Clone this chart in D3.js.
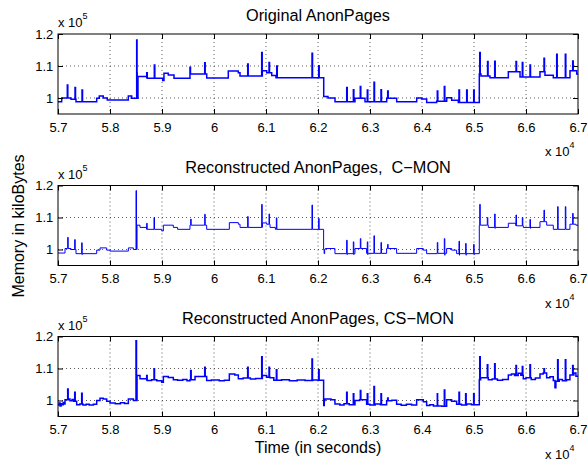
<!DOCTYPE html>
<html>
<head>
<meta charset="utf-8">
<script src="https://cdn.jsdelivr.net/npm/d3@7"></script>
<style>
  html, body { margin: 0; padding: 0; background: #fff; }
  svg { display: block; }
  text { font-family: "Liberation Sans", Arial, Helvetica, sans-serif; fill: #000; }
</style>
</head>
<body>
<svg id="chart" width="588" height="462"></svg>
<script>
// ---- axis ticks ----
const xTicks = [57000, 58000, 59000, 60000, 61000, 62000, 63000, 64000, 65000, 66000, 67000];
const xTickLabels = ["5.7", "5.8", "5.9", "6", "6.1", "6.2", "6.3", "6.4", "6.5", "6.6", "6.7"];
const yTicks = [100000, 110000, 120000];
const yTickLabels = ["1", "1.1", "1.2"];
const panelTitles = ["Original AnonPages", "Reconstructed AnonPages,  C\u2212MON", "Reconstructed AnonPages, CS\u2212MON"];

// ---- Original AnonPages: step levels (time s, kB) and short spikes ----
const origLevelT = [57000, 57071, 57250, 57346, 57744, 57794, 57871, 57948, 58352, 58417, 58520, 58538, 58706,
  59013, 59038, 59121, 59231, 59538, 59860, 60275, 60467, 60500, 60929, 61013, 61110, 61192,
  62110, 62192, 62327, 62711, 62904, 63321, 63513, 63898, 63994, 64090, 64282, 64475, 64571, 64698,
  65102, 65134, 65307, 65660, 65885, 66269, 66365, 66525, 66846, 66975];
const origLevelV = [98800, 100000, 99600, 98800, 99900, 100600, 100000, 99400, 100600, 99900, 107900, 106700, 106200,
  105500, 107700, 107200, 106200, 107500, 106250, 108400, 107900, 106900, 108500, 107900, 107000, 106350,
  100500, 100000, 98800, 99900, 98800, 99900, 98800, 100000, 99700, 98600, 99000, 100100, 99300, 98600,
  107500, 106900, 106350, 108200, 106600, 108200, 107100, 106350, 108500, 107500];
const origSpikeT = [57179, 57327, 57462, 58513, 58706, 58852, 59538, 59821, 60648, 60917, 61058, 61206,
  61885, 62013, 62552, 62680, 62813, 62948, 63077, 63211, 63340, 64294, 64429, 64711, 64859, 64994,
  65110, 65261, 65398, 65808, 65929, 66077, 66346, 66590, 66756, 66898];
const origSpikeV = [104100, 103300, 102500, 118100, 107900, 110300, 109600, 111000, 110600, 114200, 111100, 110000,
  114000, 110100, 103300, 102600, 103600, 102500, 104900, 102600, 102200, 102200, 103600, 102500, 102500, 102500,
  114200, 111400, 111500, 111400, 111100, 110300, 112400, 113700, 113700, 111600];

// ---- Reconstructed, C-MON ----
const cmonLevelT = [57000, 57135, 57250, 57346, 57744, 57808, 57936, 58000, 58353, 58449, 58520, 58577, 58705,
  58994, 59026, 59218, 59300, 59538, 59859, 60295, 60468, 60500, 60930, 61013, 61077, 61180,
  62108, 62140, 62326, 62711, 62935, 63320, 63512, 63897, 64025, 64089, 64294, 64474, 64570, 64666,
  65102, 65275, 65660, 65807, 65948, 66269, 66397, 66525, 66845, 66960];
const cmonLevelV = [98900, 100300, 100000, 98700, 99800, 100500, 99800, 99500, 100500, 100000, 107600, 106900, 106300,
  105800, 107600, 106900, 106300, 107600, 106300, 108400, 107900, 106900, 108300, 107900, 106900, 106300,
  100000, 100300, 98700, 100300, 98800, 100300, 98800, 100300, 99800, 98700, 98800, 100300, 99800, 98700,
  107600, 106900, 108200, 107400, 106900, 108700, 107600, 106300, 107900, 107600];
const cmonSpikeT = [57186, 57321, 57455, 57465, 58500, 58705, 58846, 59551, 59821, 60647, 60917, 61058, 61199,
  61884, 62012, 62022, 62118, 62551, 62561, 62679, 62689, 62814, 62948, 62958, 63076, 63211, 63339,
  64294, 64429, 64439, 64711, 64721, 64839, 64849, 64993, 65003,
  65110, 65256, 65397, 65407, 65807, 65929, 66076, 66086, 66345, 66608, 66756, 66897];
const cmonSpikeV = [103800, 103100, 102100, 98400, 118400, 108200, 110000, 109500, 111000, 110300, 114100, 111100, 109900,
  113900, 109700, 106100, 98700, 102900, 98400, 102400, 98400, 103400, 102400, 98400, 104300, 102200, 101600,
  102200, 103400, 98200, 102600, 98200, 101900, 98200, 101600, 98400,
  114100, 110000, 111100, 106600, 110800, 110000, 109400, 106600, 112300, 113400, 113400, 111300];

// ---- Reconstructed, CS-MON (noisier estimate) ----
const csmonLevelT = [57000, 57020, 57040, 57060, 57080, 57100, 57120, 57135, 57200, 57230, 57270, 57300, 57359, 57420,
  57480, 57540, 57600, 57680, 57744, 57808, 57870, 57936, 58000, 58100, 58200, 58280, 58353, 58449,
  58520, 58577, 58705, 58800, 58900, 58994, 59026, 59120, 59218, 59300, 59400, 59480, 59538, 59635,
  59859, 59950, 60100, 60200, 60295, 60400, 60468, 60560, 60700, 60800, 60930, 61013, 61077, 61150,
  61300, 61450, 61600, 61750, 61900, 62000, 62108, 62134, 62250, 62326, 62420, 62500, 62600, 62711,
  62800, 62935, 63000, 63100, 63200, 63320, 63420, 63512, 63600, 63700, 63800, 63897, 64025, 64089,
  64150, 64220, 64300, 64380, 64474, 64570, 64666, 64760, 64860, 64950, 65102, 65128, 65275, 65350,
  65450, 65550, 65660, 65720, 65780, 65850, 65900, 65948, 66000, 66100, 66180, 66269, 66330, 66397,
  66460, 66525, 66557, 66575, 66640, 66700, 66780, 66845, 66920, 66960];
const csmonLevelV = [98600, 99200, 98300, 99000, 98700, 99400, 98900, 100200, 100500, 99900, 100300, 99800, 98700, 98900,
  98600, 98800, 98600, 98800, 100000, 100700, 100500, 99800, 99200, 99000, 99300, 99100, 100500, 100000,
  107800, 106800, 106250, 106500, 106200, 105700, 107500, 107200, 106500, 106300, 106600, 106200, 106500, 107500,
  106250, 106400, 106200, 106300, 108300, 108000, 106800, 107000, 106700, 106900, 107800, 107300, 107100, 106300,
  106500, 106200, 106400, 106250, 106400, 106300, 100000, 100500, 100200, 98900, 98600, 99000, 98700, 100000,
  100200, 98800, 98600, 98900, 98700, 99900, 100100, 98800, 98500, 98800, 98600, 100200, 99600, 98400,
  98700, 98300, 98600, 98200, 100200, 99800, 98800, 98600, 98900, 98700, 106500, 107100, 106500, 106700,
  106300, 106600, 108000, 108300, 107800, 108500, 107900, 106800, 107100, 106600, 107000, 108300, 108600, 107100,
  107400, 106250, 104000, 106000, 106600, 106200, 106500, 108000, 108600, 107600];
const csmonSpikeT = [57186, 57321, 57455, 58500, 58705, 58846, 59551, 59821, 60647, 60917, 61058, 61199,
  61884, 62012, 62110, 62551, 62679, 62814, 62948, 63076, 63211, 63339, 64294, 64429, 64711, 64839, 64993,
  65110, 65256, 65397, 65807, 65929, 66076, 66345, 66608, 66756, 66897];
const csmonSpikeV = [103600, 102600, 102300, 118700, 107800, 109900, 109400, 110400, 110400, 113700, 110400, 109600,
  113000, 109600, 98400, 102600, 102100, 103100, 102100, 104400, 102100, 100800, 102100, 103300, 102600, 102100, 102100,
  113700, 111200, 111500, 110900, 110600, 111200, 109900, 112700, 112700, 110900];

const xDomain = [57000, 67000];
const yDomain = [95000, 120000];

// ---- layout ----
const svg = d3.select("#chart");
const plotLeft = 58, plotRight = 578, plotH = 80;
const panelTops = [34, 185.5, 336.5];
const lineWidths = [1.5, 1.0, 1.5];

const series = [
  { levelT: origLevelT, levelV: origLevelV, spikeT: origSpikeT, spikeV: origSpikeV },
  { levelT: cmonLevelT, levelV: cmonLevelV, spikeT: cmonSpikeT, spikeV: cmonSpikeV },
  { levelT: csmonLevelT, levelV: csmonLevelV, spikeT: csmonSpikeT, spikeV: csmonSpikeV }
];

// Merge step levels and brief excursions into a single time-ordered point list.
function buildPoints(s) {
  const levels = s.levelT.map((t, i) => ({ t, v: s.levelV[i], order: 0 }));
  const baseAt = t => {
    let v = s.levelV[0];
    for (let i = 0; i < s.levelT.length; i++) { if (s.levelT[i] <= t) v = s.levelV[i]; else break; }
    return v;
  };
  const pts = levels.slice();
  s.spikeT.forEach((t, i) => {
    pts.push({ t, v: s.spikeV[i], order: 1 });
    pts.push({ t: t + 10, v: baseAt(t), order: 2 });
  });
  pts.sort((a, b) => a.t - b.t || a.order - b.order);
  pts.push({ t: xDomain[1], v: pts[pts.length - 1].v, order: 3 });
  return pts;
}

const x = d3.scaleLinear().domain(xDomain).range([plotLeft, plotRight]);

panelTitles.forEach((title, p) => {
  const top = panelTops[p], bottom = top + plotH;
  const y = d3.scaleLinear().domain(yDomain).range([bottom, top]);
  const g = svg.append("g");

  // dotted grid
  g.append("g").selectAll("line").data(xTicks.slice(1, -1)).join("line")
    .attr("x1", d => x(d)).attr("x2", d => x(d)).attr("y1", top).attr("y2", bottom)
    .attr("stroke", "#333").attr("stroke-width", 0.8).attr("stroke-dasharray", "1,3");
  g.append("g").selectAll("line").data(yTicks.slice(0, -1)).join("line")
    .attr("y1", d => y(d)).attr("y2", d => y(d)).attr("x1", plotLeft).attr("x2", plotRight)
    .attr("stroke", "#333").attr("stroke-width", 0.8).attr("stroke-dasharray", "1,3");

  // data line
  const clipId = "clip" + p;
  g.append("clipPath").attr("id", clipId).append("rect")
    .attr("x", plotLeft).attr("y", top).attr("width", plotRight - plotLeft).attr("height", plotH);
  const line = d3.line().x(d => x(d.t)).y(d => y(d.v)).curve(d3.curveStepAfter);
  g.append("path").datum(buildPoints(series[p]))
    .attr("clip-path", `url(#${clipId})`)
    .attr("fill", "none").attr("stroke", "#0000ff")
    .attr("stroke-width", lineWidths[p]).attr("stroke-linejoin", "miter")
    .attr("d", line);

  // axes with inward ticks on all four sides
  const fmtX = d => xTickLabels[xTicks.indexOf(d)];
  const fmtY = d => yTickLabels[yTicks.indexOf(d)];
  const axB = g.append("g").attr("transform", `translate(0,${bottom})`)
    .call(d3.axisBottom(x).tickValues(xTicks).tickFormat(fmtX).tickSize(-5).tickPadding(8.5));
  const axT = g.append("g").attr("transform", `translate(0,${top})`)
    .call(d3.axisTop(x).tickValues(xTicks).tickFormat("").tickSize(-5));
  const axL = g.append("g").attr("transform", `translate(${plotLeft},0)`)
    .call(d3.axisLeft(y).tickValues(yTicks).tickFormat(fmtY).tickSize(-5).tickPadding(4.7));
  const axR = g.append("g").attr("transform", `translate(${plotRight},0)`)
    .call(d3.axisRight(y).tickValues(yTicks).tickFormat("").tickSize(-5));
  [axB, axT, axL, axR].forEach(a => {
    a.select(".domain").remove();
    a.selectAll(".tick line").attr("stroke", "#000").attr("stroke-width", 1);
    a.selectAll("text").attr("font-size", 13).attr("font-family", "Liberation Sans, Arial, sans-serif").attr("fill", "#000");
  });

  // frame
  g.append("rect").attr("x", plotLeft).attr("y", top)
    .attr("width", plotRight - plotLeft).attr("height", plotH)
    .attr("fill", "none").attr("stroke", "#000").attr("stroke-width", 1);

  // title (spacing kept as written)
  g.append("text").attr("x", (plotLeft + plotRight) / 2).attr("y", top - 12.8)
    .attr("text-anchor", "middle").attr("font-size", 16.3)
    .attr("xml:space", "preserve").style("white-space", "pre").text(title);

  // exponent labels
  const ey = g.append("text").attr("x", plotLeft).attr("y", top - 7).attr("font-size", 13);
  ey.append("tspan").text("x 10");
  ey.append("tspan").attr("dy", -8).attr("font-size", 9).text("5");
  const ex = g.append("text").attr("x", 545).attr("y", bottom + 42).attr("font-size", 13);
  ex.append("tspan").text("x 10");
  ex.append("tspan").attr("dy", -8).attr("font-size", 9).text("4");
});

// shared axis labels
svg.append("text").attr("transform", "translate(24,226) rotate(-90)")
  .attr("text-anchor", "middle").attr("font-size", 16).text("Memory in kiloBytes");
svg.append("text").attr("x", 318).attr("y", 453)
  .attr("text-anchor", "middle").attr("font-size", 16).text("Time (in seconds)");
</script>
</body>
</html>
